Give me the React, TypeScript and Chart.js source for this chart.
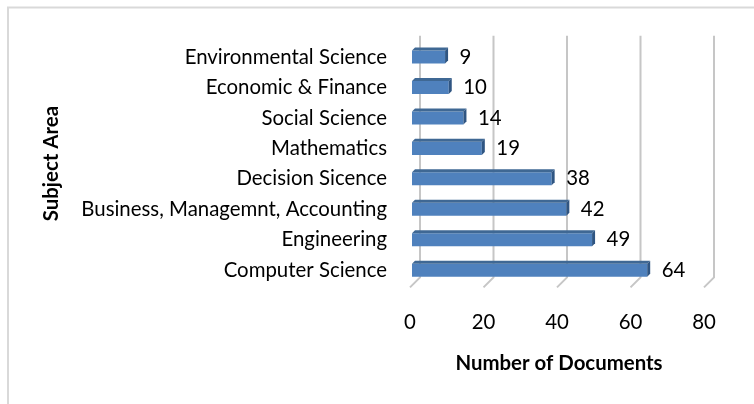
import React, { useEffect, useRef } from "react";
import { Chart, registerables } from "chart.js";

Chart.register(...registerables);

const categories = [
  "Environmental Science",
  "Economic & Finance",
  "Social Science",
  "Mathematics",
  "Decision Sicence",
  "Business, Managemnt, Accounting",
  "Engineering",
  "Computer Science",
];
const documents = [9, 10, 14, 19, 38, 42, 49, 64];
const xTicks = [0, 20, 40, 60, 80];
const yTitle = "Subject Area";
const xTitle = "Number of Documents";

const FONT = "Lato";
const FS = 20.4;
const DEPTH = 3;

const framePlugin = {
  id: "frame",
  beforeDraw(chart: any) {
    const { ctx, width, height } = chart;
    ctx.save();
    ctx.fillStyle = "#ffffff";
    ctx.fillRect(0, 0, width, height);
    ctx.strokeStyle = "#d9d9d9";
    ctx.lineWidth = 2;
    ctx.strokeRect(8, 7.5, width + 20, height + 20);
    ctx.restore();
  },
  afterDraw(chart: any) {
    const { ctx, chartArea } = chart;
    ctx.save();
    ctx.translate(51, (chartArea.top + chartArea.bottom) / 2);
    ctx.rotate(-Math.PI / 2);
    ctx.fillStyle = "#000000";
    ctx.font = `bold ${FS}px ${FONT}`;
    ctx.textAlign = "center";
    ctx.textBaseline = "middle";
    ctx.fillText(yTitle, 0, 0);
    ctx.restore();
  },
};

const wallGridPlugin = {
  id: "wallGrid",
  beforeDatasetsDraw(chart: any) {
    const { ctx, chartArea, scales } = chart;
    const x = scales.x;
    ctx.save();
    ctx.strokeStyle = "#c6c6c6";
    ctx.lineWidth = 2;
    xTicks.forEach((v) => {
      const px = x.getPixelForValue(v);
      ctx.beginPath();
      ctx.moveTo(px + 8, chartArea.top - 6);
      ctx.lineTo(px + 8, chartArea.bottom - 8);
      ctx.lineTo(px - 2, chartArea.bottom + 2);
      ctx.stroke();
    });
    ctx.restore();
  },
};

const bar3dPlugin = {
  id: "bar3d",
  afterDatasetsDraw(chart: any) {
    const { ctx } = chart;
    const meta = chart.getDatasetMeta(0);
    ctx.save();
    meta.data.forEach((bar: any, i: number) => {
      const { x, y, base, height } = bar.getProps(["x", "y", "base", "height"], true);
      const top = y - height / 2;
      const bottom = y + height / 2;
      const left = base;
      const right = x;
      // top face
      ctx.fillStyle = "#3f6894";
      ctx.beginPath();
      ctx.moveTo(left, top);
      ctx.lineTo(left + DEPTH, top - DEPTH);
      ctx.lineTo(right + DEPTH, top - DEPTH);
      ctx.lineTo(right, top);
      ctx.closePath();
      ctx.fill();
      // side face
      ctx.fillStyle = "#2f5582";
      ctx.beginPath();
      ctx.moveTo(right, top);
      ctx.lineTo(right + DEPTH, top - DEPTH);
      ctx.lineTo(right + DEPTH, bottom - DEPTH);
      ctx.lineTo(right, bottom);
      ctx.closePath();
      ctx.fill();
      // value label
      ctx.fillStyle = "#000000";
      ctx.font = `${FS}px ${FONT}`;
      ctx.textAlign = "left";
      ctx.textBaseline = "middle";
      ctx.fillText(String(documents[i]), right + 14.5, y);
    });
    ctx.restore();
  },
};

export default function App() {
  const ref = useRef<HTMLCanvasElement | null>(null);

  useEffect(() => {
    document.body.style.margin = "0";
    const canvas = ref.current;
    if (!canvas) return;
    const chart = new Chart(canvas, {
      type: "bar",
      data: {
        labels: categories,
        datasets: [
          {
            data: documents,
            backgroundColor: "#4f81bd",
            borderWidth: 0,
            barPercentage: 0.43,
            categoryPercentage: 1,
          },
        ],
      },
      options: {
        indexAxis: "y",
        responsive: false,
        animation: false,
        devicePixelRatio: 1,
        layout: { padding: { top: 41.8, right: 48, bottom: 0, left: 0 } },
        plugins: {
          legend: { display: false },
          tooltip: { enabled: false },
        },
        scales: {
          x: {
            min: 0,
            max: 80,
            afterFit: (s: any) => {
              s.height = 404 - 285.4;
            },
            afterBuildTicks: (s: any) => {
              s.ticks = xTicks.map((v) => ({ value: v }));
            },
            grid: { display: false, drawTicks: false },
            border: { display: false },
            ticks: {
              color: "#000000",
              font: { family: FONT, size: FS },
              padding: 24.4,
              labelOffset: -2,
            },
            title: {
              display: true,
              text: xTitle,
              color: "#000000",
              font: { family: FONT, size: FS, weight: "bold" },
              padding: { top: 0, bottom: 28.8 },
            },
          },
          y: {
            afterFit: (s: any) => {
              s.width = 412;
            },
            grid: { display: false, drawTicks: false },
            border: { display: false },
            ticks: {
              color: "#000000",
              font: { family: FONT, size: FS },
              padding: 25,
              autoSkip: false,
            },
            title: { display: false },
          },
        },
      },
      plugins: [framePlugin, wallGridPlugin, bar3dPlugin],
    });
    return () => chart.destroy();
  }, []);

  return (
    <div style={{ position: "absolute", left: 0, top: 0, width: 754, height: 404 }}>
      <canvas ref={ref} width={754} height={404} style={{ display: "block" }} />
    </div>
  );
}
